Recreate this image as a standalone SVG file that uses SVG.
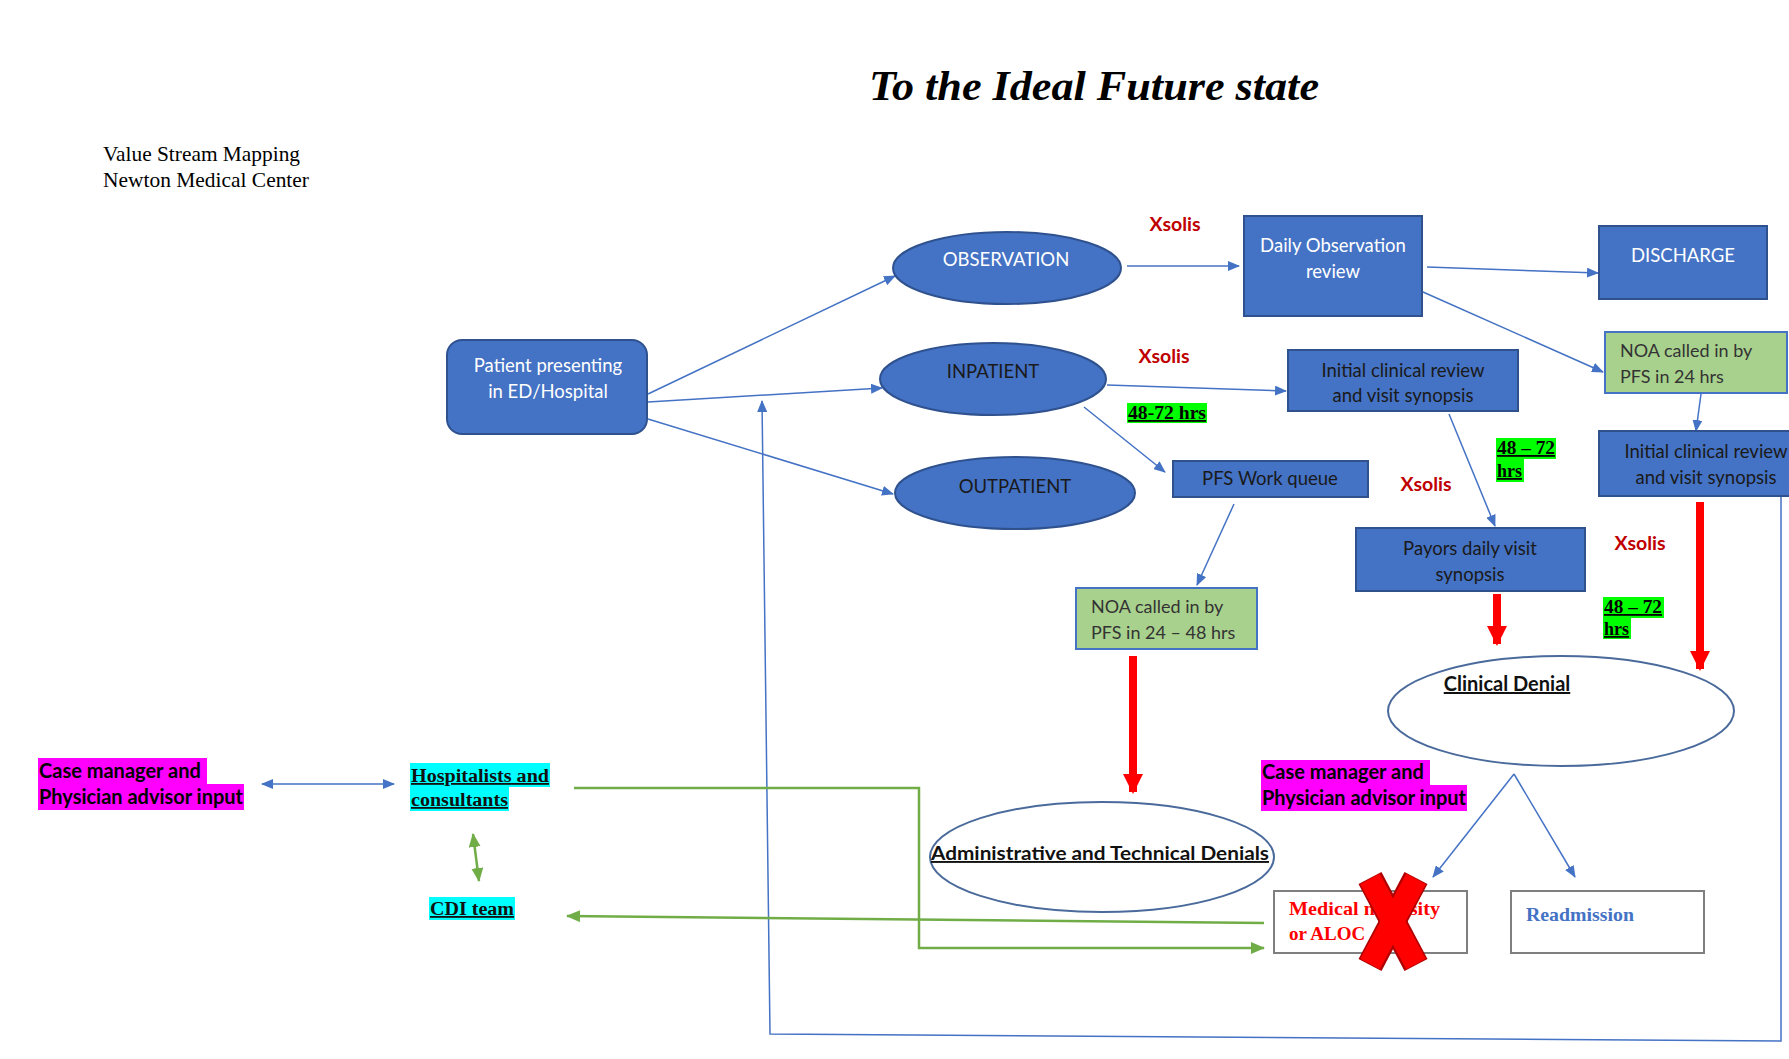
<svg xmlns="http://www.w3.org/2000/svg" width="1789" height="1059" viewBox="0 0 1789 1059">
<style>
.bx{fill:#4472C4;stroke:#2F528F;stroke-width:2}
.gbx{fill:#A9D18E;stroke:#4472C4;stroke-width:2}
.wel{fill:#fff;stroke:#4A6A9C;stroke-width:2}
.wt{font-family:Lato,"Liberation Sans",sans-serif;font-size:18.5px;fill:#fff;text-anchor:middle}
.dt{font-family:Lato,"Liberation Sans",sans-serif;font-size:18.5px;fill:#1a1a1a;text-anchor:middle}
.gt{font-family:Lato,"Liberation Sans",sans-serif;font-size:18px;fill:#333}
.xs{font-family:Lato,"Liberation Sans",sans-serif;font-size:19.5px;font-weight:bold;fill:#C00000;text-anchor:middle}
.hr{font-family:"Liberation Serif",serif;font-size:18px;font-weight:bold;fill:#000;text-decoration:underline}
.cm{font-family:Lato,"Liberation Sans",sans-serif;font-size:20px;font-weight:bold;fill:#000}
.tb{font-family:"Liberation Serif",serif;font-size:18px;font-weight:bold;fill:#111;text-decoration:underline}
.bl{fill:none;stroke:#4472C4;stroke-width:1.5}
.gr{fill:none;stroke:#70AD47;stroke-width:2.5}
.rd{stroke:#FF0000;stroke-width:8}
</style>
<defs>
<marker id="ab" markerWidth="12" markerHeight="10" refX="11" refY="5" orient="auto" markerUnits="userSpaceOnUse"><path d="M0,0 L12,5 L0,10 Z" fill="#4472C4"/></marker>
<marker id="abs" markerWidth="12" markerHeight="10" refX="1" refY="5" orient="auto" markerUnits="userSpaceOnUse"><path d="M12,0 L0,5 L12,10 Z" fill="#4472C4"/></marker>
<marker id="ag" markerWidth="14" markerHeight="12" refX="13" refY="6" orient="auto" markerUnits="userSpaceOnUse"><path d="M0,0 L14,6 L0,12 Z" fill="#70AD47"/></marker>
<marker id="ags" markerWidth="14" markerHeight="12" refX="1" refY="6" orient="auto" markerUnits="userSpaceOnUse"><path d="M14,0 L0,6 L14,12 Z" fill="#70AD47"/></marker>
<marker id="ar" markerWidth="20" markerHeight="20" refX="18" refY="10" orient="auto" markerUnits="userSpaceOnUse"><path d="M0,0 L20,10 L0,20 Z" fill="#FF0000"/></marker>
</defs>
<rect width="1789" height="1059" fill="#fff"/>

<g id="title">
<text x="1094" y="100" text-anchor="middle" font-family="'Liberation Serif',serif" font-size="42" font-weight="bold" font-style="italic" textLength="450" lengthAdjust="spacingAndGlyphs">To the Ideal Future state</text>
<text x="103" y="161" font-family="'Liberation Serif',serif" font-size="21" textLength="197" lengthAdjust="spacingAndGlyphs">Value Stream Mapping</text>
<text x="103" y="187" font-family="'Liberation Serif',serif" font-size="21" textLength="206" lengthAdjust="spacingAndGlyphs">Newton Medical Center</text>
</g>

<g id="connectors">
<line class="bl" x1="648" y1="394" x2="895" y2="276" marker-end="url(#ab)"/>
<line class="bl" x1="648" y1="402" x2="882" y2="388" marker-end="url(#ab)"/>
<line class="bl" x1="648" y1="419" x2="893" y2="494" marker-end="url(#ab)"/>
<line class="bl" x1="1127" y1="266" x2="1239" y2="266" marker-end="url(#ab)"/>
<line class="bl" x1="1427" y1="267" x2="1598" y2="273" marker-end="url(#ab)"/>
<line class="bl" x1="1423" y1="292" x2="1603" y2="372" marker-end="url(#ab)"/>
<line class="bl" x1="1107" y1="385" x2="1286" y2="391" marker-end="url(#ab)"/>
<line class="bl" x1="1084" y1="407" x2="1165" y2="472" marker-end="url(#ab)"/>
<line class="bl" x1="1449" y1="414" x2="1495" y2="526" marker-end="url(#ab)"/>
<line class="bl" x1="1701" y1="394" x2="1696" y2="431" marker-end="url(#ab)"/>
<line class="bl" x1="1234" y1="504" x2="1197" y2="585" marker-end="url(#ab)"/>
<line class="bl" x1="1514" y1="774" x2="1433" y2="877" marker-end="url(#ab)"/>
<line class="bl" x1="1514" y1="774" x2="1575" y2="877" marker-end="url(#ab)"/>
<polyline class="bl" points="1781,496 1781,1041 770,1034 762,401" marker-end="url(#ab)"/>
<line class="bl" x1="262" y1="784" x2="394" y2="784" marker-start="url(#abs)" marker-end="url(#ab)"/>
<line class="gr" x1="473" y1="834" x2="479" y2="881" marker-start="url(#ags)" marker-end="url(#ag)"/>
<line class="gr" x1="1264" y1="923" x2="567" y2="916" marker-end="url(#ag)"/>
<polyline class="gr" points="1264,948 919,948 919,788 574,788" marker-start="url(#ags)"/>
<line class="rd" x1="1133" y1="656" x2="1133" y2="792" marker-end="url(#ar)"/>
<line class="rd" x1="1497" y1="594" x2="1497" y2="644" marker-end="url(#ar)"/>
<line class="rd" x1="1700" y1="502" x2="1700" y2="669" marker-end="url(#ar)"/>
</g>

<g id="patient"><rect class="bx" x="447" y="340" width="200" height="94" rx="15"/>
<text class="wt" x="548" y="372">Patient presenting</text><text class="wt" x="548" y="398">in ED/Hospital</text></g>

<g id="observation"><ellipse class="bx" cx="1007" cy="268" rx="114" ry="36"/><text class="wt" x="1006" y="266">OBSERVATION</text></g>
<g id="inpatient"><ellipse class="bx" cx="993" cy="379" rx="113" ry="36"/><text class="dt" x="993" y="378">INPATIENT</text></g>
<g id="outpatient"><ellipse class="bx" cx="1015" cy="493" rx="120" ry="36"/><text class="dt" x="1015" y="493">OUTPATIENT</text></g>

<g id="daily-obs"><rect class="bx" x="1244" y="216" width="178" height="100"/>
<text class="wt" x="1333" y="252">Daily Observation</text><text class="wt" x="1333" y="278">review</text></g>
<g id="discharge"><rect class="bx" x="1599" y="226" width="168" height="73"/><text class="wt" x="1683" y="262">DISCHARGE</text></g>

<g id="initial-mid"><rect class="bx" x="1288" y="350" width="230" height="61"/>
<text class="dt" x="1403" y="377">Initial clinical review</text><text class="dt" x="1403" y="402">and visit synopsis</text></g>

<g id="noa24"><rect class="gbx" x="1605" y="332" width="182" height="61"/>
<text class="gt" x="1620" y="357">NOA called in by</text><text class="gt" x="1620" y="383">PFS in 24 hrs</text></g>

<g id="initial-right"><rect class="bx" x="1599" y="431" width="192" height="65"/>
<text class="dt" x="1706" y="458">Initial clinical review</text><text class="dt" x="1706" y="484">and visit synopsis</text></g>

<g id="pfs-queue"><rect class="bx" x="1173" y="461" width="195" height="36"/><text class="dt" x="1270" y="485">PFS Work queue</text></g>

<g id="payors"><rect class="bx" x="1356" y="528" width="229" height="63"/>
<text class="dt" x="1470" y="555">Payors daily visit</text><text class="dt" x="1470" y="581">synopsis</text></g>

<g id="noa2448"><rect class="gbx" x="1076" y="588" width="181" height="61"/>
<text class="gt" x="1091" y="613">NOA called in by</text><text class="gt" x="1091" y="639">PFS in 24 – 48 hrs</text></g>

<g id="clinical-denial"><ellipse class="wel" cx="1561" cy="711" rx="173" ry="55"/>
<text x="1507" y="691" text-anchor="middle" font-family="Lato,'Liberation Sans',sans-serif" font-size="20" font-weight="bold" fill="#111" text-decoration="underline">Clinical Denial</text></g>

<g id="admin-denials"><ellipse class="wel" cx="1102" cy="857" rx="172" ry="55"/>
<text x="1100" y="860" text-anchor="middle" font-family="Lato,'Liberation Sans',sans-serif" font-size="19" font-weight="bold" fill="#111" text-decoration="underline" textLength="338" lengthAdjust="spacingAndGlyphs">Administrative and Technical Denials</text></g>

<g id="medical"><rect x="1274" y="891" width="193" height="62" fill="#fff" stroke="#7f7f7f" stroke-width="2"/>
<text x="1289" y="915" font-family="'Liberation Serif',serif" font-size="19" font-weight="bold" fill="#FF0000" textLength="151" lengthAdjust="spacingAndGlyphs">Medical necessity</text>
<text x="1289" y="940" font-family="'Liberation Serif',serif" font-size="19" font-weight="bold" fill="#FF0000">or ALOC</text>
<g stroke-linecap="butt">
<line x1="1370" y1="878" x2="1416" y2="965" stroke="#B00000" stroke-width="26"/>
<line x1="1416" y1="878" x2="1370" y2="965" stroke="#B00000" stroke-width="26"/>
<line x1="1370" y1="879" x2="1416" y2="964" stroke="#FF0000" stroke-width="22"/>
<line x1="1416" y1="879" x2="1370" y2="964" stroke="#FF0000" stroke-width="22"/>
</g></g>

<g id="readmission"><rect x="1511" y="891" width="193" height="62" fill="#fff" stroke="#7f7f7f" stroke-width="2"/>
<text x="1526" y="921" font-family="'Liberation Serif',serif" font-size="19" font-weight="bold" fill="#4472C4" textLength="108" lengthAdjust="spacingAndGlyphs">Readmission</text></g>

<g id="xsolis-labels">
<text class="xs" x="1175" y="231">Xsolis</text>
<text class="xs" x="1164" y="363">Xsolis</text>
<text class="xs" x="1426" y="491">Xsolis</text>
<text class="xs" x="1640" y="550">Xsolis</text>
</g>

<g id="time-labels">
<rect x="1127" y="403" width="80" height="20" fill="#00FF00"/>
<text class="hr" x="1128" y="419" textLength="78" lengthAdjust="spacingAndGlyphs">48-72 hrs</text>
<rect x="1496" y="438" width="60" height="21" fill="#00FF00"/><rect x="1496" y="459" width="28" height="23" fill="#00FF00"/>
<text class="hr" x="1497" y="454" textLength="58" lengthAdjust="spacingAndGlyphs">48 – 72</text>
<text class="hr" x="1497" y="477">hrs</text>
<rect x="1603" y="597" width="61" height="21" fill="#00FF00"/><rect x="1603" y="618" width="28" height="21" fill="#00FF00"/>
<text class="hr" x="1604" y="613" textLength="58" lengthAdjust="spacingAndGlyphs">48 – 72</text>
<text class="hr" x="1604" y="635">hrs</text>
</g>

<g id="case-manager-left">
<rect x="38" y="758" width="169" height="26" fill="#FF00FF"/><rect x="38" y="784" width="206" height="26" fill="#FF00FF"/>
<text class="cm" x="39" y="778">Case manager and</text><text class="cm" x="39" y="804" textLength="204" lengthAdjust="spacingAndGlyphs">Physician advisor input</text>
</g>
<g id="case-manager-right">
<rect x="1261" y="760" width="169" height="25" fill="#FF00FF"/><rect x="1261" y="785" width="206" height="26" fill="#FF00FF"/>
<text class="cm" x="1262" y="779">Case manager and</text><text class="cm" x="1262" y="805" textLength="204" lengthAdjust="spacingAndGlyphs">Physician advisor input</text>
</g>
<g id="hospitalists">
<rect x="410" y="763" width="140" height="24" fill="#00FFFF"/><rect x="410" y="787" width="99" height="24" fill="#00FFFF"/>
<text class="tb" x="411" y="782" textLength="138" lengthAdjust="spacingAndGlyphs">Hospitalists and</text>
<text class="tb" x="411" y="806" textLength="97" lengthAdjust="spacingAndGlyphs">consultants</text>
</g>
<g id="cdi-team">
<rect x="429" y="897" width="86" height="23" fill="#00FFFF"/>
<text class="tb" x="430" y="915" textLength="84" lengthAdjust="spacingAndGlyphs">CDI team</text>
</g>
</svg>
